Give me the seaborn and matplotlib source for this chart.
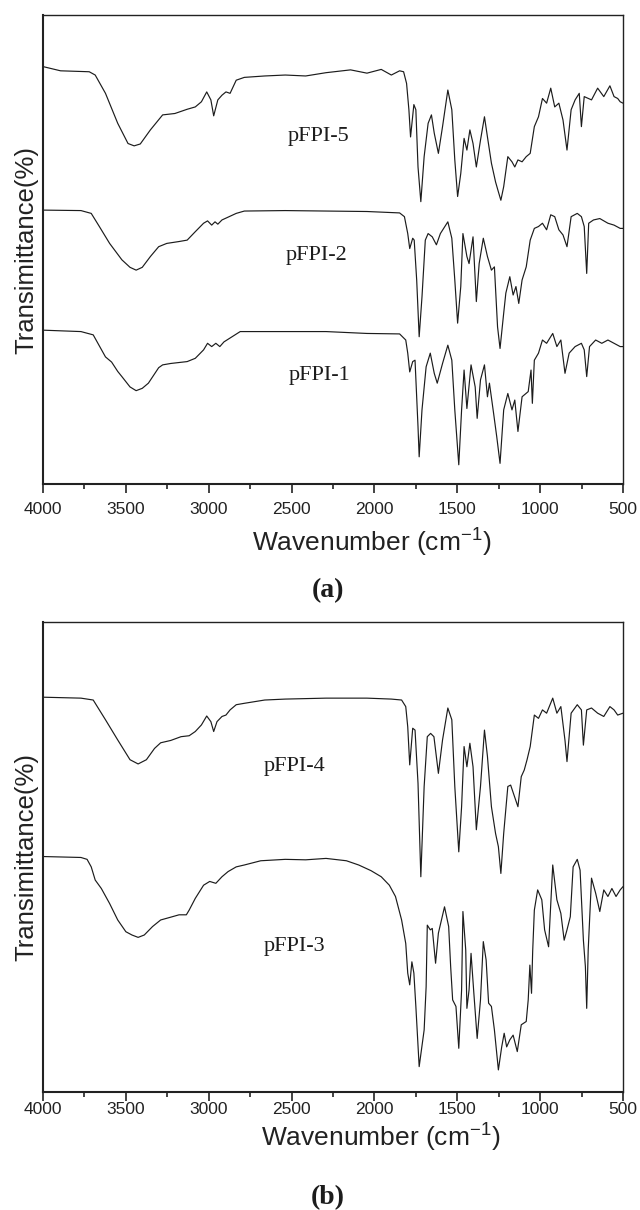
import numpy as np
import pandas as pd
import matplotlib
matplotlib.use("Agg")
import matplotlib.pyplot as plt
from matplotlib.ticker import MultipleLocator
import seaborn as sns

# FTIR spectra (wavenumber in cm-1, transmittance in arbitrary units)
wn_5 = [4000, 3894, 3721, 3685, 3623, 3549, 3487, 3450, 3413, 3352, 3278, 3204, 3130, 3081, 3044,
        3012, 2987, 2970, 2945, 2920, 2896, 2871, 2834, 2785, 2662, 2538, 2415, 2292, 2144, 2045,
        1959, 1898, 1848, 1824, 1806, 1792, 1782, 1762, 1750, 1737, 1720, 1700, 1676, 1656, 1639,
        1614, 1589, 1557, 1533, 1515, 1498, 1479, 1459, 1442, 1424, 1405, 1385, 1360, 1336, 1318,
        1294, 1269, 1252, 1237, 1220, 1195, 1170, 1153, 1134, 1109, 1084, 1060, 1035, 1010, 986,
        961, 936, 912, 887, 862, 838, 813, 789, 764, 751, 734, 690, 653, 616, 579, 554, 532, 517, 500]
t_5 = [89.0, 88.1, 87.9, 87.2, 83.3, 76.9, 72.6, 72.1, 72.5, 75.5, 78.7, 79.0, 79.9, 80.4, 81.5,
       83.6, 81.9, 78.5, 81.9, 82.9, 83.6, 83.3, 86.1, 86.7, 87.0, 87.2, 87.0, 87.7, 88.3, 87.6,
       88.4, 87.2, 88.1, 87.9, 85.4, 79.8, 74.0, 80.9, 79.8, 67.6, 60.2, 69.8, 76.9, 78.7, 74.8,
       70.5, 76.2, 84.0, 79.8, 69.1, 61.3, 66.2, 73.7, 71.2, 75.5, 72.6, 67.6, 73.3, 78.3, 74.0,
       68.4, 64.4, 62.3, 60.5, 63.4, 69.8, 68.7, 67.6, 69.1, 68.7, 69.8, 70.5, 76.2, 78.3, 82.2,
       81.2, 84.4, 80.4, 81.2, 77.6, 71.2, 79.8, 81.9, 83.3, 76.2, 82.6, 81.9, 84.4, 82.6, 84.9,
       82.6, 82.2, 81.5, 81.2]

wn_2 = [4000, 3771, 3709, 3660, 3598, 3524, 3475, 3438, 3401, 3352, 3302, 3253, 3179, 3130, 3081,
        3031, 3007, 2982, 2962, 2945, 2920, 2883, 2834, 2785, 2538, 2292, 2045, 1848, 1819, 1799,
        1787, 1769, 1760, 1745, 1730, 1713, 1693, 1676, 1651, 1626, 1602, 1557, 1533, 1515, 1498,
        1479, 1466, 1442, 1429, 1405, 1385, 1368, 1343, 1318, 1294, 1276, 1257, 1242, 1220, 1207,
        1183, 1163, 1146, 1129, 1109, 1084, 1060, 1035, 1010, 986, 961, 936, 912, 887, 862, 838,
        813, 776, 751, 734, 719, 707, 678, 640, 591, 554, 517, 500]
t_2 = [58.4, 58.3, 57.7, 54.9, 51.3, 47.8, 46.2, 45.6, 46.2, 48.5, 50.6, 51.3, 51.7, 52.0, 53.8,
       55.6, 56.1, 55.2, 55.9, 55.4, 56.3, 56.9, 57.7, 58.2, 58.3, 58.2, 58.1, 57.8, 57.0, 53.4,
       50.2, 52.4, 52.0, 43.5, 31.4, 39.9, 52.0, 53.4, 52.7, 51.0, 53.4, 55.9, 52.4, 43.5, 34.3,
       42.1, 53.4, 48.5, 47.0, 52.7, 38.9, 47.0, 52.4, 48.5, 45.6, 46.3, 33.5, 28.9, 36.4, 40.7,
       44.2, 40.3, 42.1, 38.5, 43.5, 46.3, 52.0, 54.5, 54.9, 55.6, 54.2, 57.4, 57.0, 54.2, 53.1, 50.6,
       57.0, 57.7, 57.0, 54.9, 44.9, 55.6, 56.3, 56.6, 55.6, 55.2, 54.5, 54.5]

wn_1 = [4000, 3771, 3697, 3623, 3586, 3549, 3524, 3475, 3438, 3401, 3364, 3302, 3278, 3229, 3130,
        3081, 3031, 3007, 2982, 2957, 2933, 2908, 2859, 2810, 2662, 2292, 2045, 1848, 1811, 1799,
        1787, 1769, 1755, 1737, 1730, 1713, 1688, 1663, 1639, 1621, 1589, 1557, 1533, 1515, 1491,
        1474, 1459, 1442, 1417, 1392, 1380, 1360, 1336, 1318, 1306, 1281, 1262, 1242, 1220, 1195,
        1170, 1153, 1134, 1109, 1072, 1055, 1047, 1035, 1010, 986, 961, 924, 899, 875, 850, 825,
        789, 751, 734, 719, 702, 665, 628, 591, 554, 517, 500]
t_1 = [32.8, 32.5, 31.8, 27.1, 26.0, 24.0, 22.9, 20.7, 19.9, 20.4, 21.5, 24.8, 25.4, 25.7, 26.1,
       26.8, 28.6, 30.0, 29.3, 30.0, 29.3, 30.3, 31.4, 32.5, 32.5, 32.5, 32.1, 32.0, 30.7, 27.9,
       23.9, 26.1, 26.4, 12.2, 5.8, 15.8, 25.0, 27.9, 23.6, 21.5, 25.7, 29.6, 26.4, 15.8, 4.1,
       15.8, 24.3, 16.1, 25.4, 20.7, 14.0, 22.2, 25.4, 18.6, 21.5, 15.1, 10.1, 4.4, 15.8, 19.3,
       15.8, 17.9, 11.2, 18.6, 19.7, 24.3, 17.2, 26.4, 27.9, 30.7, 30.0, 32.1, 29.3, 30.7, 23.6, 27.9,
       29.3, 30.0, 28.6, 22.9, 29.3, 30.7, 30.0, 30.7, 30.0, 29.3, 29.3]

wn_4 = [4000, 3771, 3697, 3623, 3549, 3475, 3426, 3376, 3327, 3290, 3229, 3167, 3118, 3081, 3044,
        3012, 2987, 2970, 2950, 2920, 2896, 2871, 2834, 2785, 2662, 2538, 2292, 2045, 1898, 1836,
        1811, 1799, 1787, 1769, 1755, 1737, 1720, 1700, 1681, 1661, 1641, 1614, 1589, 1557, 1533,
        1515, 1491, 1474, 1459, 1442, 1424, 1405, 1385, 1360, 1336, 1318, 1294, 1269, 1252, 1237,
        1220, 1195, 1178, 1158, 1134, 1114, 1096, 1079, 1060, 1035, 1010, 986, 961, 924, 899, 875,
        850, 838, 813, 776, 751, 739, 719, 690, 653, 616, 579, 554, 532, 500]
t_4 = [84.0, 83.8, 83.4, 79.2, 74.9, 70.7, 69.8, 70.7, 73.1, 74.3, 74.8, 75.6, 75.8, 76.7, 78.1,
       80.0, 78.8, 76.7, 78.8, 79.9, 80.2, 81.3, 82.4, 82.7, 83.4, 83.6, 83.8, 83.8, 83.6, 83.4,
       82.0, 77.7, 69.6, 77.4, 77.0, 65.7, 45.8, 65.0, 75.6, 76.3, 75.6, 67.8, 74.9, 81.7, 79.2,
       65.0, 51.1, 60.7, 73.5, 69.2, 74.2, 69.2, 55.8, 65.0, 77.0, 71.4, 60.7, 55.0, 52.2, 46.5,
       55.0, 65.0, 65.3, 63.2, 60.7, 67.1, 68.5, 70.7, 73.5, 80.2, 79.5, 81.3, 80.6, 83.8, 80.6, 82.0,
       74.8, 70.3, 80.6, 82.4, 81.3, 73.8, 81.3, 81.7, 80.6, 79.9, 82.0, 81.3, 80.2, 80.6]

wn_3 = [4000, 3771, 3734, 3709, 3685, 3648, 3598, 3549, 3500, 3463, 3426, 3389, 3339, 3290, 3229,
        3179, 3135, 3118, 3081, 3031, 2994, 2957, 2920, 2883, 2834, 2785, 2686, 2538, 2415, 2292,
        2169, 2095, 2021, 1959, 1910, 1873, 1836, 1811, 1799, 1787, 1774, 1762, 1750, 1730, 1700,
        1688, 1681, 1663, 1651, 1631, 1614, 1577, 1552, 1540, 1528, 1508, 1491, 1474, 1466, 1449,
        1442, 1429, 1417, 1400, 1380, 1360, 1343, 1326, 1311, 1294, 1276, 1252, 1232, 1217, 1202,
        1183, 1163, 1138, 1114, 1084, 1072, 1062, 1052, 1045, 1035, 1015, 990, 973, 949, 924, 899,
        875, 855, 838, 818, 801, 776, 759, 739, 727, 719, 710, 690, 665, 640, 616, 591, 567, 542,
        517, 500]
t_3 = [50.1, 49.9, 49.5, 47.9, 45.1, 43.3, 40.1, 36.6, 34.1, 33.4, 32.9, 33.4, 35.2, 36.6, 37.2,
       37.7, 37.7, 38.7, 41.2, 44.0, 44.8, 44.4, 45.8, 46.9, 47.9, 48.3, 49.2, 49.5, 49.4, 49.7,
       49.2, 48.3, 47.1, 45.8, 44.0, 41.6, 36.6, 31.6, 25.3, 22.8, 27.7, 25.3, 18.2, 5.4, 13.2,
       22.4, 35.5, 34.5, 34.8, 27.4, 33.8, 39.4, 35.2, 26.7, 19.6, 18.2, 9.3, 21.7, 38.4, 30.2,
       17.8, 21.7, 29.5, 21.0, 11.4, 19.6, 32.0, 28.1, 18.9, 18.2, 13.2, 4.7, 9.6, 12.5, 9.6,
       11.1, 12.1, 8.6, 14.3, 15.0, 19.6, 27.0, 21.0, 30.0, 38.7, 43.0, 40.9, 34.5, 30.9, 48.3, 40.9,
       38.0, 32.3, 34.5, 37.3, 47.9, 49.5, 47.2, 32.3, 26.7, 17.8, 30.2, 45.5, 42.3, 38.4, 43.0, 41.6,
       43.3, 41.6, 43.0, 43.7]

panel_a = [("pFPI-5", wn_5, t_5), ("pFPI-2", wn_2, t_2), ("pFPI-1", wn_1, t_1)]
panel_b = [("pFPI-4", wn_4, t_4), ("pFPI-3", wn_3, t_3)]

# label anchors (wavenumber, transmittance)
labels_a = {"pFPI-5": (2335, 74.0), "pFPI-2": (2347, 48.8), "pFPI-1": (2330, 23.2)}
labels_b = {"pFPI-4": (2480, 69.2), "pFPI-3": (2480, 30.9)}

sns.set_theme(style="ticks")
plt.rcParams['font.family'] = ['Liberation Sans', 'DejaVu Sans']
plt.rcParams['mathtext.fontset'] = 'custom'
plt.rcParams['mathtext.rm'] = 'Liberation Sans'
plt.rcParams['mathtext.it'] = 'Liberation Sans'

fig = plt.figure(figsize=(6.4, 12.1), dpi=100)
ax_a = fig.add_axes([43 / 640, 1 - 484 / 1210, 580 / 640, 469 / 1210])
ax_b = fig.add_axes([43 / 640, 1 - 1092 / 1210, 580 / 640, 470 / 1210])


def draw_panel(ax, series, labels, xlab_pos, tick_pad):
    df = pd.concat([pd.DataFrame({"wavenumber": w, "T": t, "sample": name})
                    for name, w, t in series])
    sns.lineplot(data=df, x="wavenumber", y="T", units="sample", estimator=None,
                 color="#1c1c1c", linewidth=0.85, ax=ax, legend=False)
    for name, (x, y) in labels.items():
        ax.text(x, y, name, family="Liberation Serif", fontsize=16,
                ha="center", va="center", color="#1c1c1c")
    ax.set_xlim(4000, 500)
    ax.set_ylim(0, 100)
    ax.xaxis.set_major_locator(MultipleLocator(500))
    ax.xaxis.set_minor_locator(MultipleLocator(250))
    ax.set_yticks([])
    ax.tick_params(axis="x", which="major", direction="out", length=6.5, width=1.2,
                   labelsize=12.5, pad=tick_pad, color="#222222", labelcolor="#222222")
    ax.tick_params(axis="x", which="minor", direction="out", length=3.6, width=1.2,
                   color="#222222")
    for side in ["left", "bottom"]:
        ax.spines[side].set_linewidth(1.5)
    for side in ["top", "right"]:
        ax.spines[side].set_linewidth(1.0)
    for sp in ax.spines.values():
        sp.set_color("#222222")
    ax.set_xlabel("Wavenumber (cm$^{-1}$)", fontsize=19, color="#222222")
    ax.xaxis.set_label_coords(*xlab_pos)
    ax.xaxis.label.set_va("center")
    ax.set_ylabel("Transimittance(%)", fontsize=18.5, color="#222222")
    ax.yaxis.set_label_coords(-0.029, 0.5)
    ax.yaxis.label.set_va("center")


draw_panel(ax_a, panel_a, labels_a, (0.566, -0.126), 6.5)
draw_panel(ax_b, panel_b, labels_b, (0.583, -0.098), 1.0)

fig.text(328 / 640, 1 - 591 / 1210, "(a)", family="Liberation Serif", weight="bold",
         fontsize=20, ha="center", va="center", color="#1c1c1c")
fig.text(328 / 640, 1 - 1198 / 1210, "(b)", family="Liberation Serif", weight="bold",
         fontsize=20, ha="center", va="center", color="#1c1c1c")

fig.savefig("out.png", dpi=100, facecolor="white")
